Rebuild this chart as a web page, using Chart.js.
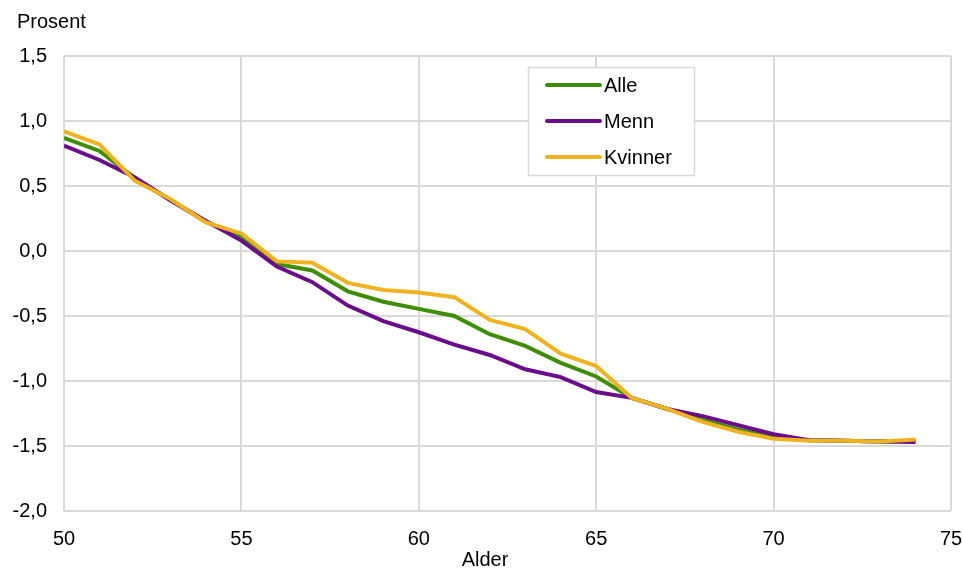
<!DOCTYPE html>
<html>
<head>
<meta charset="utf-8">
<script src="https://cdn.jsdelivr.net/npm/chart.js@4/dist/chart.umd.min.js"></script>
<style>
  html, body { margin: 0; padding: 0; background: #fff; }
  #wrap { width: 963px; height: 569px; position: relative; }
</style>
</head>
<body>
<div id="wrap"><canvas id="chart" width="963" height="569"></canvas></div>
<script>
// Alder 50–74
const ages = [50, 51, 52, 53, 54, 55, 56, 57, 58, 59, 60, 61, 62, 63, 64, 65, 66, 67, 68, 69, 70, 71, 72, 73, 74];

const alle = [0.87, 0.77, 0.56, 0.39, 0.225, 0.11, -0.10, -0.15, -0.31, -0.39, -0.445, -0.50, -0.64, -0.73, -0.86, -0.965, -1.13, -1.215, -1.30, -1.375, -1.43, -1.455, -1.46, -1.465, -1.46];
const menn = [0.81, 0.70, 0.565, 0.39, 0.23, 0.08, -0.12, -0.24, -0.42, -0.54, -0.625, -0.72, -0.80, -0.91, -0.97, -1.085, -1.13, -1.215, -1.27, -1.34, -1.41, -1.455, -1.46, -1.465, -1.47];
const kvinner = [0.92, 0.82, 0.54, 0.40, 0.22, 0.135, -0.08, -0.09, -0.245, -0.30, -0.32, -0.355, -0.53, -0.60, -0.79, -0.885, -1.13, -1.215, -1.315, -1.39, -1.445, -1.46, -1.46, -1.465, -1.45];

const seriesNames = ['Alle', 'Menn', 'Kvinner'];
const seriesColors = ['#3f8c05', '#6a0d8a', '#efb321'];
const drawOrder = [2, 1, 0]; // Kvinner øverst, så Menn, så Alle

const FONT = 'Arial, "Liberation Sans", sans-serif';

function toPoints(values) {
  return values.map((v, i) => ({ x: ages[i], y: v }));
}

// legende-boks inne i plottet + aksetitler
const extras = {
  id: 'extras',
  afterDraw(chart) {
    const ctx = chart.ctx;
    ctx.save();
    ctx.font = '20px ' + FONT;
    ctx.fillStyle = '#000';
    ctx.textBaseline = 'middle';
    ctx.textAlign = 'left';
    ctx.fillText('Prosent', 17, 22);

    ctx.textAlign = 'center';
    ctx.fillText('Alder', 485, 560);

    // legende
    ctx.textAlign = 'left';
    ctx.fillStyle = '#fff';
    ctx.fillRect(528, 67, 167, 109);
    ctx.strokeStyle = '#d9d9d9';
    ctx.lineWidth = 1.5;
    ctx.strokeRect(528.5, 67.5, 166, 108);
    chart.data.datasets.forEach((ds, i) => {
      const y = 85 + i * 36;
      ctx.strokeStyle = ds.borderColor;
      ctx.lineWidth = 4;
      ctx.lineCap = 'round';
      ctx.beginPath();
      ctx.moveTo(547, y);
      ctx.lineTo(600, y);
      ctx.stroke();
      ctx.fillStyle = '#000';
      ctx.fillText(ds.label, 604, y + 1);
    });
    ctx.restore();
  }
};

new Chart(document.getElementById('chart'), {
  type: 'line',
  data: {
    datasets: [alle, menn, kvinner].map((vals, i) => ({
      label: seriesNames[i],
      data: toPoints(vals),
      borderColor: seriesColors[i],
      backgroundColor: seriesColors[i],
      borderWidth: 4,
      pointRadius: 0,
      tension: 0,
      fill: false,
      order: drawOrder[i]
    }))
  },
  options: {
    responsive: false,
    animation: false,
    layout: { padding: { top: 56, right: 12, left: 0, bottom: 0 } },
    plugins: {
      legend: { display: false },
      tooltip: { enabled: false }
    },
    scales: {
      x: {
        type: 'linear',
        min: 50,
        max: 75,
        ticks: {
          stepSize: 5,
          padding: 16,
          color: '#000',
          font: { family: FONT, size: 20 }
        },
        grid: { color: '#d9d9d9', lineWidth: 2, drawTicks: false },
        border: { display: false },
        afterFit(scale) {
          scale.height = 58;
          scale.paddingLeft = 0;
          scale.paddingRight = 0;
        }
      },
      y: {
        min: -2,
        max: 1.5,
        ticks: {
          stepSize: 0.5,
          padding: 17,
          color: '#000',
          font: { family: FONT, size: 20 },
          callback: v => v.toFixed(1).replace('.', ',')
        },
        grid: { color: '#d9d9d9', lineWidth: 2, drawTicks: false },
        border: { display: false },
        afterFit(scale) {
          scale.width = 64;
          scale.paddingTop = 0;
          scale.paddingBottom = 0;
        }
      }
    }
  },
  plugins: [extras]
});
</script>
</body>
</html>
